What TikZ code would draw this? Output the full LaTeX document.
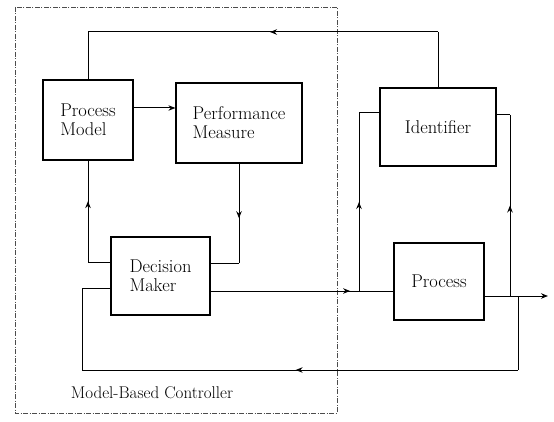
\documentclass[tikz,border=0pt]{standalone}
\usetikzlibrary{arrows.meta,decorations.markings,calc}
\begin{document}
\begin{tikzpicture}[x=1pt,y=-1pt,
  line width=1pt,
  blk/.style={draw, line width=1.2pt, inner sep=0pt, align=left, font=\fontsize{18.5}{19}\selectfont},
  tip/.style={-{Stealth[length=7pt,width=5.5pt]}},
  arrowat/.style={postaction={decorate}, decoration={markings, mark=at position #1 with {\arrow{Stealth[length=7pt,width=5.5pt]}}}},
  ctrlbox/.style={draw=black!70, line width=0.6pt, dash pattern=on 5pt off 1.5pt on 1pt off 1.5pt}
]
\useasboundingbox (0,0) rectangle (554,422);
% controller frame
\draw[ctrlbox] (15,7) rectangle (337,413);
\node[font=\fontsize{17}{19}\selectfont] (lbl) at (152,393) {Model-Based Controller};
% blocks
\node[blk, minimum width=90pt, minimum height=80pt] (PM) at (88,120) {Process\\Model};
\node[blk, minimum width=126pt, minimum height=80pt] (PerfM) at (239,123) {Performance\\Measure};
\node[blk, minimum width=116pt, minimum height=78pt] (Id) at (438,127) {Identifier};
\node[blk, minimum width=99pt, minimum height=78pt] (DM) at (160.5,276) {Decision\\Maker};
\node[blk, minimum width=90pt, minimum height=77pt] (Proc) at (439,281.5) {Process};
% helper coordinates
\coordinate (t1) at (438,32);
\coordinate (p3) at (239,263);
\coordinate (p4) at (88,262);
\coordinate (j1) at (359,291);
\coordinate (j1t) at (359,113);
\coordinate (o1) at (548,296);
\coordinate (j2) at (510,296);
\coordinate (j2t) at (510,115);
\coordinate (j3) at (518,296);
\coordinate (b1) at (518,370);
\coordinate (b2) at (82,370);
\coordinate (b3) at (82,288);
% top feedback
\draw (Id.north) -- (t1);
\draw[arrowat=0.48] (t1) -- (PM.north |- t1);
\draw (PM.north |- t1) -- (PM.north);
% model -> performance
\draw[tip] (PM.east |- 0,108) -- (PerfM.west |- 0,108);
% performance -> decision maker
\draw[arrowat=0.55] (PerfM.south) -- (p3);
\draw (p3) -- (p3 -| DM.east);
% decision maker -> process model
\draw (p4 -| DM.west) -- (p4);
\draw[arrowat=0.6] (p4) -- (PM.south);
% decision maker -> process
\draw[arrowat=0.94] (DM.east |- j1) -- (j1);
\draw (j1) -- (Proc.west |- j1);
% input -> identifier
\draw[arrowat=0.5] (j1) -- (j1t);
\draw (j1t) -- (Id.west |- j1t);
% process output
\draw (Proc.east |- o1) -- (j2);
\draw (j2) -- (j3);
\draw[tip] (j3) -- (o1);
% output -> identifier
\draw[arrowat=0.5] (j2) -- (j2t);
\draw (j2t) -- (Id.east |- j2t);
% output feedback to decision maker
\draw (j3) -- (b1);
\draw[arrowat=0.51] (b1) -- (b2);
\draw (b2) -- (b3) -- (b3 -| DM.west);
\end{tikzpicture}
\end{document}
